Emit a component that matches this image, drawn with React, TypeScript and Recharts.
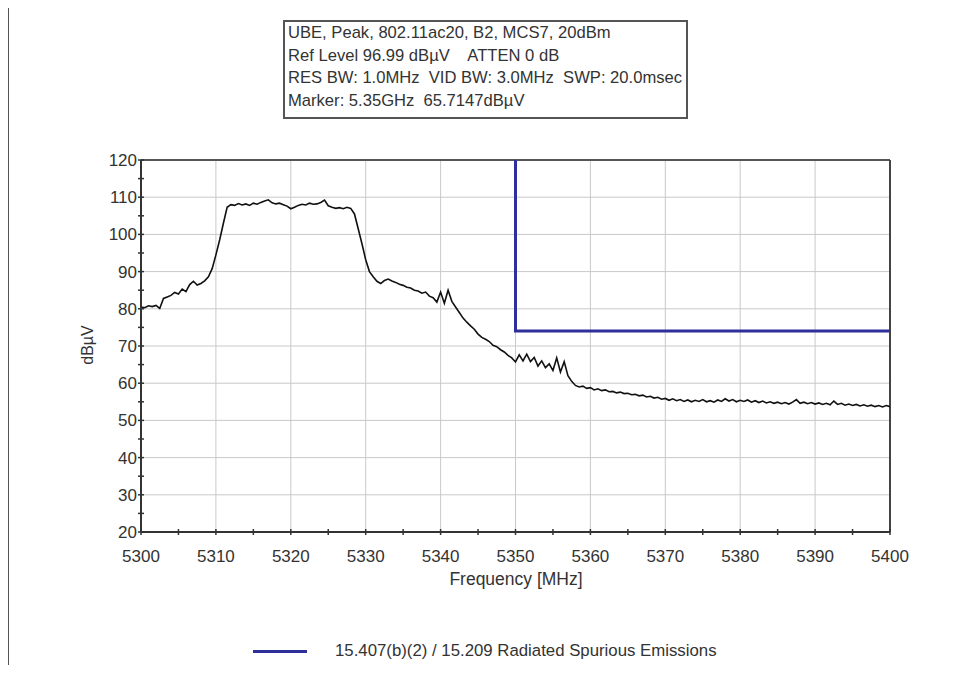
import React from 'react';
import { LineChart, Line, XAxis, YAxis, CartesianGrid, ReferenceLine } from 'recharts';

// measured trace, one value every 0.5 MHz from 5300 to 5400
const trace5300 = [80.5, 80.3, 80.8, 80.6, 80.9, 80.1, 82.8, 83.2, 83.6, 84.4, 84.0, 85.3, 84.6, 86.5, 87.4, 86.4, 86.8, 87.5, 88.6, 90.8];
const trace5310 = [94.5, 98.5, 103.0, 107.3, 108.0, 107.8, 108.3, 107.9, 108.2, 107.8, 108.4, 108.1, 108.6, 109.0, 109.3, 108.5, 108.2, 108.4, 108.0, 107.6];
const trace5320 = [106.9, 107.3, 107.8, 108.1, 107.9, 108.4, 108.1, 108.2, 108.6, 109.2, 107.7, 107.3, 107.0, 107.2, 106.9, 107.3, 107.0, 105.5, 101.5, 97.5];
const trace5330 = [93.2, 90.0, 88.6, 87.4, 86.8, 87.6, 88.0, 87.5, 87.1, 86.6, 86.3, 85.8, 85.6, 85.0, 84.8, 84.2, 84.5, 83.4, 83.0, 81.8];
const trace5340 = [84.5, 81.5, 85.0, 82.0, 80.5, 79.0, 77.5, 76.4, 75.4, 74.5, 73.2, 72.3, 71.8, 71.2, 70.2, 69.8, 69.0, 68.4, 67.5, 66.8];
const trace5350 = [65.7, 67.6, 66.0, 67.8, 65.8, 66.9, 64.6, 66.0, 64.2, 65.2, 63.4, 66.8, 63.0, 65.8, 62.0, 60.5, 59.4, 59.0, 59.2, 58.6];
const trace5360 = [58.8, 58.2, 58.5, 58.0, 58.2, 57.7, 57.8, 57.4, 57.6, 57.2, 57.3, 56.9, 57.0, 56.6, 56.8, 56.3, 56.5, 56.0, 56.2, 55.7];
const trace5370 = [55.9, 55.4, 55.8, 55.3, 55.6, 55.1, 55.5, 55.0, 55.4, 55.1, 55.6, 55.0, 55.3, 54.9, 55.5, 55.1, 55.8, 55.2, 55.6, 55.0];
const trace5380 = [55.4, 55.1, 55.5, 54.9, 55.3, 54.8, 55.2, 54.7, 55.0, 54.6, 54.9, 54.5, 54.8, 54.4, 54.9, 55.6, 54.6, 54.9, 54.5, 54.8];
const trace5390 = [54.4, 54.7, 54.3, 54.6, 54.2, 55.2, 54.3, 54.6, 54.1, 54.4, 54.0, 54.3, 53.9, 54.2, 53.8, 54.1, 53.7, 54.0, 53.6, 54.0];
const trace5400 = [53.7];

const traceValues = [
  ...trace5300, ...trace5310, ...trace5320, ...trace5330, ...trace5340,
  ...trace5350, ...trace5360, ...trace5370, ...trace5380, ...trace5390, ...trace5400,
];

// limit line corners
const limitFreqs = [5350, 5350, 5400];
const limitValues = [120, 74, 74];

const xTicks = [5300, 5305, 5310, 5315, 5320, 5325, 5330, 5335, 5340, 5345, 5350, 5355, 5360, 5365, 5370, 5375, 5380, 5385, 5390, 5395, 5400];
const yTicks = [20, 25, 30, 35, 40, 45, 50, 55, 60, 65, 70, 75, 80, 85, 90, 95, 100, 105, 110, 115, 120];
const xGrid = [5310, 5320, 5330, 5340, 5350, 5360, 5370, 5380, 5390];
const yGrid = [30, 40, 50, 60, 70, 80, 90, 100, 110];

const infoLines = [
  'UBE, Peak, 802.11ac20, B2, MCS7, 20dBm',
  'Ref Level 96.99 dBµV    ATTEN 0 dB',
  'RES BW: 1.0MHz  VID BW: 3.0MHz  SWP: 20.0msec',
  'Marker: 5.35GHz  65.7147dBµV',
];

const traceData = traceValues.map((v, i) => ({ f: 5300 + i * 0.5, v }));
const limitData = limitFreqs.map((f, i) => ({ f, lim: limitValues[i] }));

const FONT = '"Liberation Sans", Arial, sans-serif';
const TEXT = '#333';

const XTick = ({ x, y, payload }: any) => (
  <g>
    <line x1={x} x2={x} y1={y - 3} y2={y + 3} stroke="#333" strokeWidth={1.5} />
    {payload.value % 10 === 0 && (
      <text x={x} y={y + 30} textAnchor="middle" fontSize={17} fontFamily={FONT} fill={TEXT}>
        {payload.value}
      </text>
    )}
  </g>
);

const YTick = ({ x, y, payload }: any) => (
  <g>
    <line x1={x - 3} x2={x + 3} y1={y} y2={y} stroke="#333" strokeWidth={1.5} />
    {payload.value % 10 === 0 && (
      <text x={x - 4} y={y + 6} textAnchor="end" fontSize={17} fontFamily={FONT} fill={TEXT}>
        {payload.value}
      </text>
    )}
  </g>
);

export default function App() {
  return (
    <div style={{ position: 'relative', width: 954, height: 673, margin: -8, background: '#fff', fontFamily: FONT, color: TEXT }}>
      {/* frame */}
      <div style={{ position: 'absolute', left: 8, top: 4, right: 0, height: 2, background: '#444' }} />
      <div style={{ position: 'absolute', left: 7, top: 4, width: 2, bottom: 0, background: '#555' }} />

      <LineChart
        width={954}
        height={673}
        margin={{ top: 160, right: 64, bottom: 140, left: 140 }}
        style={{ position: 'absolute', left: 0, top: 0 }}
      >
        <CartesianGrid stroke="#c9c9c9" verticalValues={xGrid} horizontalValues={yGrid} />
        <XAxis
          type="number"
          dataKey="f"
          domain={[5300, 5400]}
          ticks={xTicks}
          interval={0}
          height={1}
          tickSize={0}
          tickMargin={0}
          tick={<XTick />}
          axisLine={{ stroke: '#333', strokeWidth: 2 }}
          allowDataOverflow
        />
        <YAxis
          type="number"
          domain={[20, 120]}
          ticks={yTicks}
          interval={0}
          width={1}
          tickSize={0}
          tickMargin={0}
          tick={<YTick />}
          axisLine={{ stroke: '#333', strokeWidth: 2 }}
          allowDataOverflow
        />
        <ReferenceLine y={120} stroke="#555" strokeWidth={2} />
        <ReferenceLine x={5400} stroke="#444" strokeWidth={2} />
        <Line
          data={limitData}
          dataKey="lim"
          type="linear"
          stroke="#2f2f9c"
          strokeWidth={3}
          dot={false}
          isAnimationActive={false}
        />
        <Line
          data={traceData}
          dataKey="v"
          type="linear"
          stroke="#111"
          strokeWidth={1.6}
          dot={false}
          isAnimationActive={false}
        />
      </LineChart>

      {/* info box */}
      <div style={{ position: 'absolute', left: 283, top: 20, width: 401, height: 95, border: '2px solid #555' }}>
        {infoLines.map((t, i) => (
          <div key={i} style={{ position: 'absolute', left: 3, top: 1 + i * 22.7, fontSize: 16.6, lineHeight: '20px', whiteSpace: 'pre' }}>{t}</div>
        ))}
      </div>

      {/* axis titles */}
      <div style={{ position: 'absolute', left: 88, top: 345, transform: 'translate(-50%, -50%) rotate(-90deg)', fontSize: 16, whiteSpace: 'nowrap' }}>dBµV</div>
      <div style={{ position: 'absolute', left: 516, top: 579, transform: 'translate(-50%, -50%)', fontSize: 17.5, whiteSpace: 'nowrap' }}>Frequency [MHz]</div>

      {/* legend */}
      <div style={{ position: 'absolute', left: 253, top: 650, width: 54, height: 3, background: '#2f2f9c' }} />
      <div style={{ position: 'absolute', left: 335, top: 651, transform: 'translateY(-50%)', fontSize: 16.8, whiteSpace: 'nowrap' }}>
        15.407(b)(2) / 15.209 Radiated Spurious Emissions
      </div>
    </div>
  );
}
